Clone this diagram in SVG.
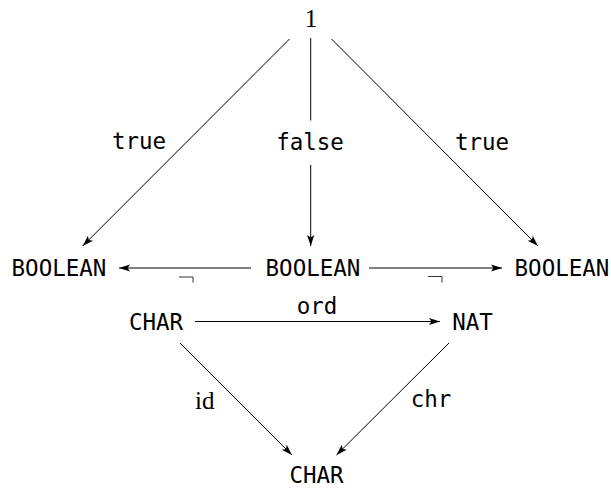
<svg xmlns="http://www.w3.org/2000/svg" width="611" height="489" viewBox="0 0 611 489">
<style>
  .tt { font-family: "DejaVu Sans Mono", "Liberation Mono", monospace; font-size: 22.5px; fill: #000; text-anchor: middle; }
  .rm { font-family: "Liberation Serif", "DejaVu Serif", serif; font-size: 25px; fill: #000; }
  .edge { fill: none; stroke: #000; stroke-width: 1; }
  .corner { fill: none; stroke: #000; stroke-width: 0.8; }
</style>
<defs>
  <marker id="arr" markerUnits="userSpaceOnUse" markerWidth="14" markerHeight="10" viewBox="-12 -5 14 10" refX="0" refY="0" orient="auto">
    <path d="M0,0 L-11,-3.6 L-8.6,0 L-11,3.6 Z" fill="#000"/>
  </marker>
</defs>
<rect width="611" height="489" fill="#fff"/>

<g id="connectors">
  <path id="e-1-bl" class="edge" d="M289.5,39 L82.7,246" marker-end="url(#arr)"/>
  <path id="e-1-bm" class="edge" d="M310.7,38 V120.5 M310.7,165 V246" marker-end="url(#arr)"/>
  <path id="e-1-br" class="edge" d="M331.5,39 L538,246" marker-end="url(#arr)"/>
  <path id="e-bm-bl" class="edge" d="M251,268 H119" marker-end="url(#arr)"/>
  <path id="e-bm-br" class="edge" d="M369,268 H502" marker-end="url(#arr)"/>
  <path id="e-char-nat" class="edge" d="M195,321.5 H440" marker-end="url(#arr)"/>
  <path id="e-char-char" class="edge" d="M180,343 L292,455" marker-end="url(#arr)"/>
  <path id="e-nat-char" class="edge" d="M449,343 L336.5,455" marker-end="url(#arr)"/>
  <path id="pb-left" class="corner" d="M179,277 H193 V282.5"/>
  <path id="pb-right" class="corner" d="M428,276.5 H442 V282.5"/>
  <text class="tt" x="139" y="149">true</text>
  <text class="tt" x="310" y="150">false</text>
  <text class="tt" x="482" y="150">true</text>
  <text class="tt" x="317" y="314">ord</text>
  <text class="rm" x="195" y="409">id</text>
  <text class="tt" x="431" y="407">chr</text>
</g>

<g id="n-one"><text class="rm" x="311" y="27" text-anchor="middle">1</text></g>
<g id="n-bool-left"><text class="tt" x="59" y="276">BOOLEAN</text></g>
<g id="n-bool-mid"><text class="tt" x="313" y="276">BOOLEAN</text></g>
<g id="n-bool-right"><text class="tt" x="562" y="276">BOOLEAN</text></g>
<g id="n-char-top"><text class="tt" x="156" y="330">CHAR</text></g>
<g id="n-nat"><text class="tt" x="472.5" y="330">NAT</text></g>
<g id="n-char-bottom"><text class="tt" x="316.5" y="483">CHAR</text></g>
</svg>
